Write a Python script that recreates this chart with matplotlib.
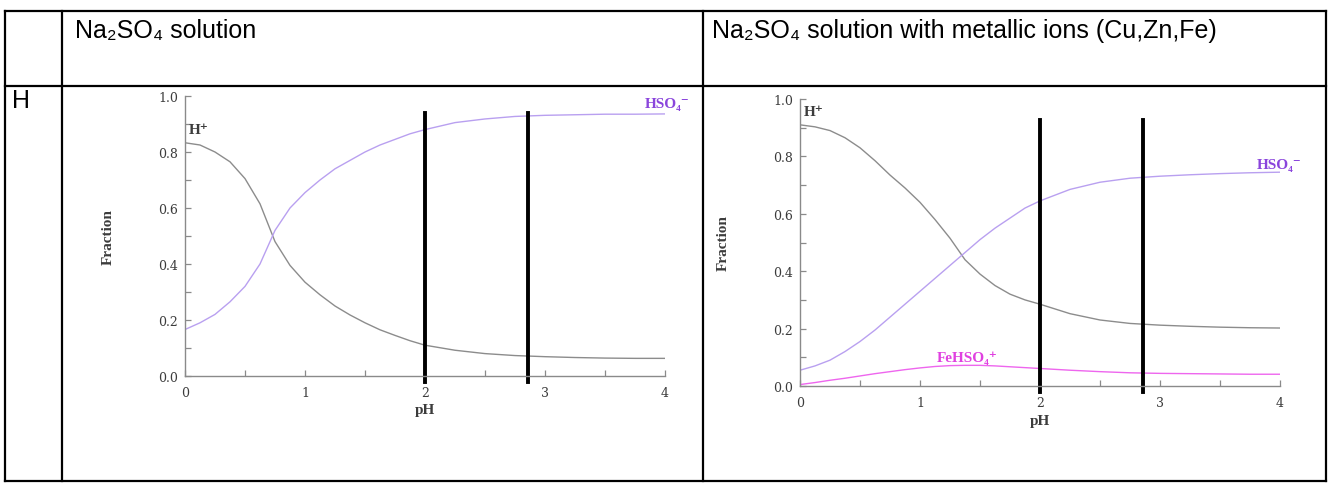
import matplotlib
matplotlib.use("Agg")
import matplotlib.pyplot as plt
from matplotlib.lines import Line2D
from matplotlib.ticker import MultipleLocator

# DATA
ph = [0, 0.125, 0.25, 0.375, 0.5, 0.625, 0.75, 0.875, 1.0, 1.125, 1.25, 1.375, 1.5, 1.625,
      1.75, 1.875, 2.0, 2.25, 2.5, 2.75, 3.0, 3.25, 3.5, 3.75, 4.0]

# Na2SO4 solution
h_plain    = [0.833, 0.825, 0.80, 0.765, 0.705, 0.615, 0.48, 0.395, 0.335, 0.29, 0.25, 0.218, 0.19,
              0.165, 0.145, 0.126, 0.11, 0.092, 0.08, 0.073, 0.069, 0.066, 0.064, 0.063, 0.063]
hso4_plain = [0.166, 0.19, 0.22, 0.265, 0.32, 0.40, 0.52, 0.60, 0.655, 0.70, 0.74, 0.77, 0.80,
              0.825, 0.845, 0.865, 0.88, 0.905, 0.918, 0.927, 0.931, 0.933, 0.935, 0.935, 0.936]

# Na2SO4 solution with metallic ions
h_metal    = [0.91, 0.903, 0.89, 0.865, 0.83, 0.785, 0.735, 0.69, 0.64, 0.58, 0.515, 0.44, 0.39,
              0.35, 0.32, 0.30, 0.285, 0.252, 0.23, 0.218, 0.212, 0.208, 0.205, 0.203, 0.202]
hso4_metal = [0.055, 0.07, 0.09, 0.12, 0.155, 0.195, 0.24, 0.285, 0.33, 0.375, 0.42, 0.465, 0.51,
              0.55, 0.585, 0.62, 0.645, 0.685, 0.71, 0.724, 0.731, 0.736, 0.74, 0.743, 0.745]
fehso4     = [0.005, 0.012, 0.02, 0.027, 0.035, 0.043, 0.05, 0.057, 0.063, 0.068, 0.071, 0.072, 0.072,
              0.07, 0.067, 0.064, 0.061, 0.055, 0.05, 0.046, 0.044, 0.043, 0.042, 0.041, 0.041]

marker_ph = [2.0, 2.86]   # thick black guide lines

headers = ['Na\u2082SO\u2084 solution', 'Na\u2082SO\u2084 solution with metallic ions (Cu,Zn,Fe)']
row_label = 'H'

W, H = 1331, 485
GRAY = '#8c8c8c'
LAV = '#b9a0f0'
PURPLE = '#8a45dc'
MAGENTA = '#ee66ee'
TXT = '#3c3c3c'
SERIF = ['Liberation Serif', 'DejaVu Serif']
SANS = ['Liberation Sans', 'DejaVu Sans']

fig = plt.figure(figsize=(W / 100, H / 100), dpi=100)
fig.patch.set_facecolor('white')


def fx(px):
    return px / W


def fy(py):
    return 1 - py / H


# table grid
for y in [12, 87, 482]:
    fig.add_artist(Line2D([fx(5), fx(1326)], [fy(y), fy(y)], color='black', lw=1.6))
for x in [5, 62, 703, 1326]:
    fig.add_artist(Line2D([fx(x), fx(x)], [fy(12), fy(482)], color='black', lw=1.6))

fig.text(fx(75), fy(31), headers[0], family=SANS, fontsize=18, va='center', ha='left')
fig.text(fx(712), fy(31), headers[1], family=SANS, fontsize=18, va='center', ha='left')
fig.text(fx(12), fy(101), row_label, family=SANS, fontsize=18, va='center', ha='left')


def style_axes(ax):
    for s in ['top', 'right']:
        ax.spines[s].set_visible(False)
    for s in ['left', 'bottom']:
        ax.spines[s].set_color('#8a8a8a')
        ax.spines[s].set_linewidth(1.0)
    ax.set_xlim(0, 4)
    ax.set_ylim(0, 1.0)
    ax.xaxis.set_major_locator(MultipleLocator(1))
    ax.xaxis.set_minor_locator(MultipleLocator(0.5))
    ax.yaxis.set_major_locator(MultipleLocator(0.2))
    ax.yaxis.set_minor_locator(MultipleLocator(0.1))
    ax.tick_params(which='both', direction='in', length=4, width=0.9, color='#8a8a8a',
                   labelsize=9, labelcolor=TXT)
    ax.tick_params(axis='x', which='both', pad=7)
    ax.tick_params(axis='y', which='both', pad=5)
    ax.xaxis.set_major_formatter(plt.FuncFormatter(lambda v, p: f'{v:.0f}'))
    ax.yaxis.set_major_formatter(plt.FuncFormatter(lambda v, p: f'{v:.1f}'))
    for lab in ax.get_xticklabels() + ax.get_yticklabels():
        lab.set_family('DejaVu Serif')
    ax.text(-0.16, 0.5, 'Fraction', transform=ax.transAxes, rotation=90, family=SERIF,
            fontsize=11, fontweight='bold', ha='center', va='center', color=TXT)
    ax.text(0.5, -0.12, 'pH', transform=ax.transAxes, family=SERIF, fontsize=11,
            fontweight='bold', ha='center', va='center', color=TXT)


# left chart
ax1 = fig.add_axes([fx(185), fy(377), fx(665) - fx(185), fy(97) - fy(377)])
ax1.plot(ph, h_plain, color=GRAY, lw=1.0)
ax1.plot(ph, hso4_plain, color=LAV, lw=1.0)
style_axes(ax1)
ax1.text(0.03, 0.88, 'H\u207a', family=SERIF, fontsize=11, fontweight='bold', color=TXT,
         va='center')
ax1.text(3.83, 0.972, 'HSO\u2084\u207b', family=SERIF, fontsize=11, fontweight='bold',
         color=PURPLE, va='center')
for x in marker_ph:
    ax1.plot([x, x], [-0.02, 0.94], color='black', lw=2.8, clip_on=False)

# right chart
ax2 = fig.add_axes([fx(800), fy(387), fx(1280) - fx(800), fy(100) - fy(387)])
ax2.plot(ph, h_metal, color=GRAY, lw=1.0)
ax2.plot(ph, hso4_metal, color=LAV, lw=1.0)
ax2.plot(ph, fehso4, color=MAGENTA, lw=1.0)
style_axes(ax2)
ax2.text(0.03, 0.955, 'H\u207a', family=SERIF, fontsize=11, fontweight='bold', color=TXT,
         va='center')
ax2.text(3.81, 0.773, 'HSO\u2084\u207b', family=SERIF, fontsize=11, fontweight='bold',
         color=PURPLE, va='center')
ax2.text(1.39, 0.10, 'FeHSO\u2084\u207a', family=SERIF, fontsize=11, fontweight='bold',
         color='#e040e0', ha='center', va='center')
for x in marker_ph:
    ax2.plot([x, x], [-0.02, 0.927], color='black', lw=2.8, clip_on=False)

fig.savefig('out.png', dpi=100)
